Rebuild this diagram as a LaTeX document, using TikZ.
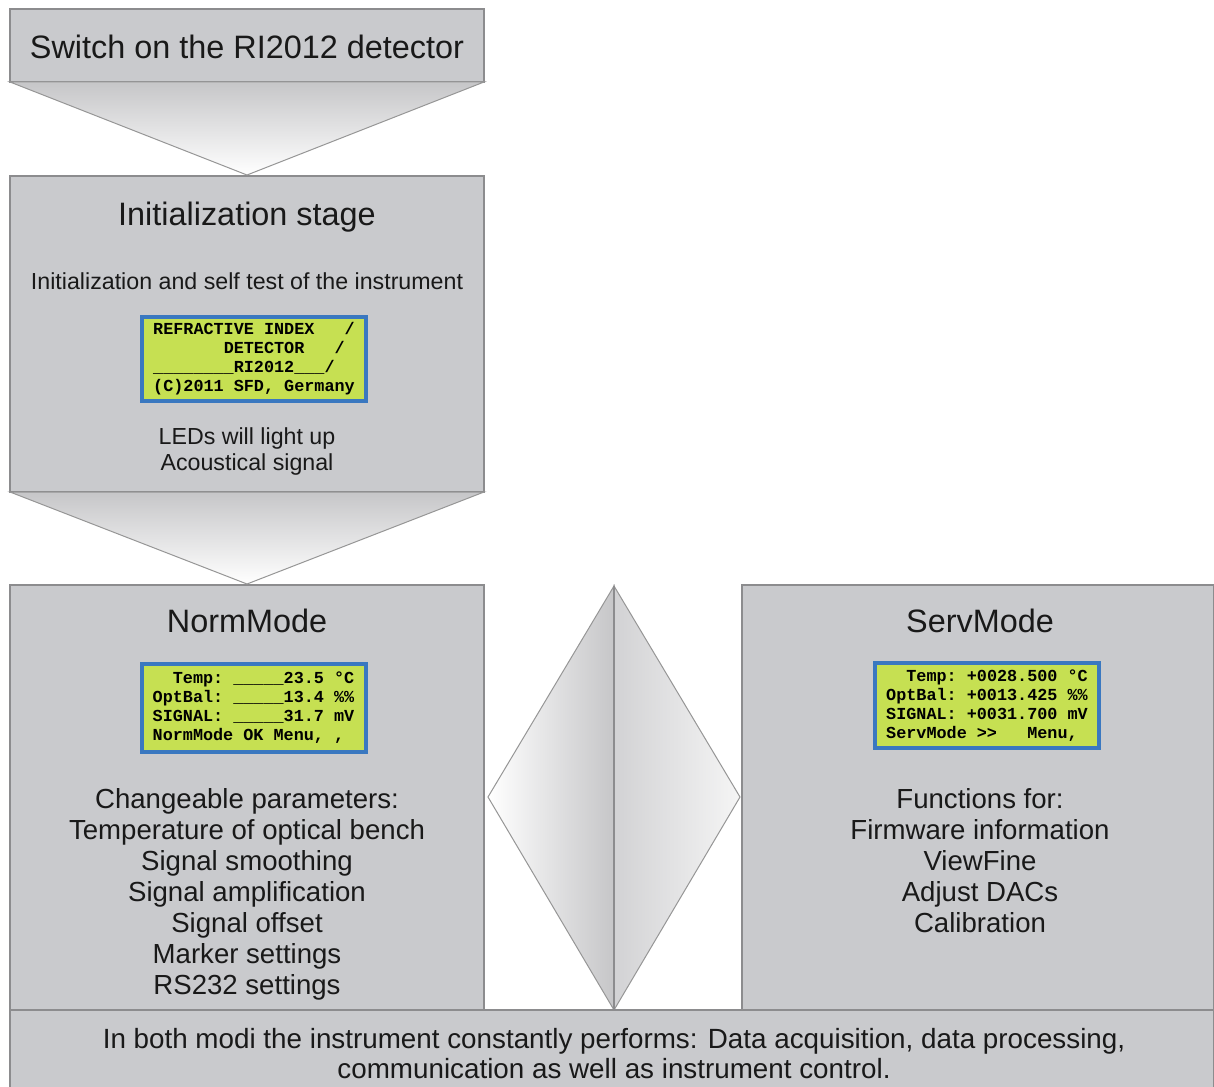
\documentclass[tikz,border=0pt]{standalone}
\usepackage{fontspec}
\usetikzlibrary{calc}
\setmainfont{Liberation Sans}
\newfontfamily\lcdfont{Liberation Mono}
\definecolor{boxfill}{RGB}{201,202,205}
\definecolor{boxline}{RGB}{140,140,142}
\definecolor{triline}{RGB}{150,150,150}
\definecolor{trigray}{RGB}{198,198,200}
\definecolor{lcdgreen}{RGB}{198,224,82}
\definecolor{lcdblue}{RGB}{58,120,192}
\definecolor{txt}{RGB}{25,25,25}
\begin{document}
\begin{tikzpicture}[x=0.5pt,y=-0.5pt,
  box/.style={draw=boxline, fill=boxfill, line width=0.9pt, anchor=north west, inner sep=0pt, outer sep=0pt},
  lcd/.style={draw=lcdblue, fill=lcdgreen, line width=2pt, inner sep=0pt, align=left, minimum width=112pt, text=black,
     font=\lcdfont\bfseries\fontsize{8.4}{9.5}\selectfont},
  head/.style={font=\fontsize{16.2}{19}\selectfont, text=txt, inner sep=0pt},
  small/.style={font=\fontsize{11.6}{13}\selectfont, text=txt, inner sep=0pt, align=center},
  list/.style={font=\fontsize{13.8}{15.5}\selectfont, text=txt, inner sep=0pt, align=center},
  foot/.style={font=\fontsize{13.9}{15}\selectfont, text=txt, inner sep=0pt, align=center},
  shapeline/.style={draw=triline, line width=0.5pt}
]
\useasboundingbox (0,0) rectangle (1214,1086);
\fill[white] (0,0) rectangle (1214,1086);

% boxes
\node[box, minimum width=237pt, minimum height=36.5pt] (top) at (10,9) {};
\node[box, minimum width=237pt, minimum height=158pt] (init) at (10,176) {};
\node[box, minimum width=237pt, minimum height=212.5pt] (norm) at (10,585) {};
\node[box, minimum width=236pt, minimum height=212.5pt] (serv) at (742,585) {};

% funnels
\shade[top color=trigray, bottom color=white, shapeline] (top.south west) -- (top.south east) -- ($(init.north)+(0,-1)$) -- cycle;
\shade[top color=trigray, bottom color=white, shapeline] (init.south west) -- (init.south east) -- ($(norm.north)+(0,-1)$) -- cycle;

% diamond
\coordinate (dtop) at (614,586);
\coordinate (dbot) at (614,1010);
\coordinate (dl) at (488,797);
\coordinate (dr) at (740,797);
\shade[left color=white, right color=trigray, shapeline] (dtop) -- (dl) -- (dbot) -- cycle;
\shade[left color={rgb,255:red,210;green,210;blue,212}, right color={rgb,255:red,245;green,245;blue,245}, shapeline] (dtop) -- (dr) -- (dbot) -- cycle;
\draw[draw=boxline, line width=0.6pt] (dtop) -- (dbot);

\node[box, minimum width=602pt, minimum height=40pt] (foot) at (10,1010) {};

% texts
\node[head] (t1) at (247,47) {Switch on the RI2012 detector};
\node[head] (t2) at (247,217) {Initialization stage};
\node[small] (t3) at (247,281) {Initialization and self test of the instrument};
\node[lcd, minimum height=42pt] (lcd1) at (254,359) {REFRACTIVE~INDEX~~~/\\~~~~~~~DETECTOR~~~/\\\_\_\_\_\_\_\_\_RI2012\_\_\_/\\(C)2011~SFD,~Germany};
\node[small] (t4) at (247,451) {LEDs will light up\\Acoustical signal};

\node[head] (t5) at (247,621) {NormMode};
\node[lcd, minimum height=44pt] (lcd2) at (253.5,708) {~~Temp:~\_\_\_\_\_23.5~°C\\OptBal:~\_\_\_\_\_13.4~\%\%\\SIGNAL:~\_\_\_\_\_31.7~mV\\NormMode~OK~Menu,~,};
\node[list] (t6) at (247,894) {Changeable parameters:\\Temperature of optical bench\\Signal smoothing\\Signal amplification\\Signal offset\\Marker settings\\RS232 settings};

\node[head] (t7) at (980,621) {ServMode};
\node[lcd, minimum height=42.5pt] (lcd3) at (987,705.5) {~~Temp:~+0028.500~°C\\OptBal:~+0013.425~\%\%\\SIGNAL:~+0031.700~mV\\ServMode~>>~~~Menu,};
\node[list] (t8) at (980,861) {Functions for:\\Firmware information\\ViewFine\\Adjust DACs\\Calibration};

\node[foot] (t9) at (614,1054) {In both modi the instrument constantly performs: Data acquisition, data processing,\\communication as well as instrument control.};
\end{tikzpicture}
\end{document}
